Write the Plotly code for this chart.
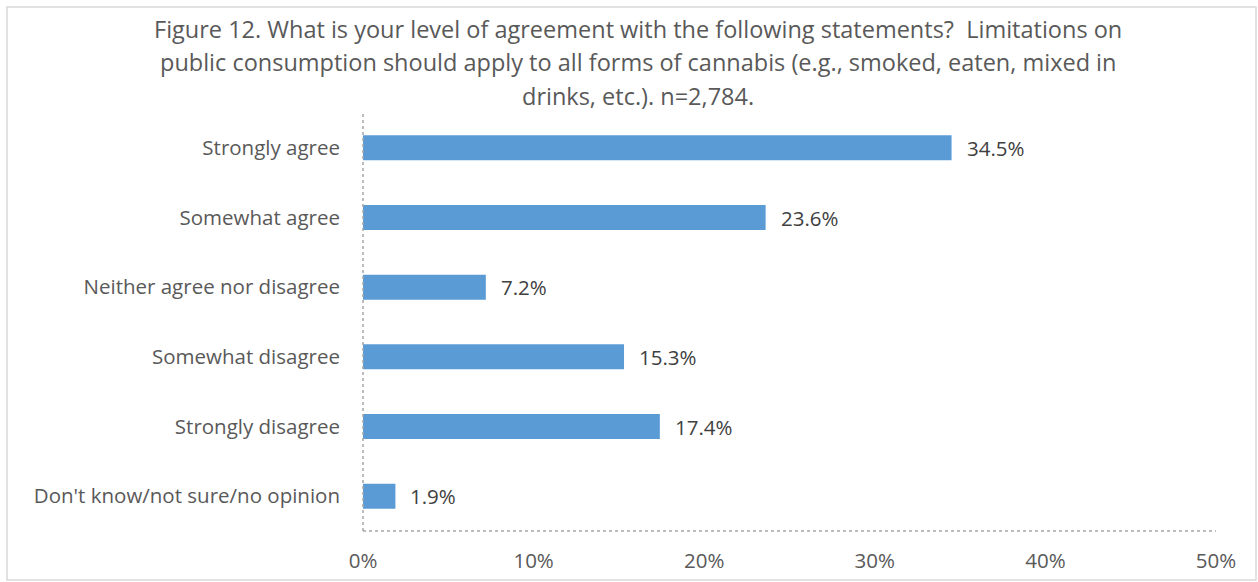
import plotly.graph_objects as go

categories = [
    "Strongly agree",
    "Somewhat agree",
    "Neither agree nor disagree",
    "Somewhat disagree",
    "Strongly disagree",
    "Don't know/not sure/no opinion",
]
values = [34.5, 23.6, 7.2, 15.3, 17.4, 1.9]
tick_vals = [0, 10, 20, 30, 40, 50]
tick_text = ["0%", "10%", "20%", "30%", "40%", "50%"]
title_lines = [
    "Figure 12. What is your level of agreement with the following statements?  Limitations on",
    "public consumption should apply to all forms of cannabis (e.g., smoked, eaten, mixed in",
    "drinks, etc.). n=2,784.",
]

W, H = 1258, 582
FONT = "Open Sans"
GRAY = "#595959"

# plot area in pixels
L, R, T, B = 363, 1216, 113, 531
PW, PH = R - L, B - T


def px_x(x):
    return (x - L) / PW


def px_y(y):
    return (B - y) / PH


fig = go.Figure()
fig.add_trace(go.Bar(
    y=categories,
    x=values,
    orientation="h",
    marker=dict(color="#5B9BD5", line=dict(width=0)),
    hoverinfo="x+y",
))

# value labels just right of each bar
for c, v in zip(categories, values):
    fig.add_annotation(
        x=v, y=c, xref="x", yref="y",
        text=f"{v:.1f}%", showarrow=False,
        xanchor="left", yanchor="middle", xshift=13,
        font=dict(family=FONT, size=20.5, color="#404040"),
    )

# three-line title
for i, line in enumerate(title_lines):
    fig.add_annotation(
        x=px_x(638), y=px_y(29 + 33.5 * i), xref="paper", yref="paper",
        text=line, showarrow=False, xanchor="center", yanchor="middle",
        font=dict(family=FONT, size=23.5, color=GRAY),
    )

# dotted axis lines
fig.add_shape(type="line", xref="paper", yref="paper", x0=0, x1=1, y0=0, y1=0,
              line=dict(color="#A6A6A6", width=1.5, dash="dot"))
fig.add_shape(type="line", xref="paper", yref="paper", x0=0, x1=0, y0=0, y1=1,
              line=dict(color="#A6A6A6", width=1.5, dash="dot"))

# outer chart border
fig.add_shape(
    type="rect", xref="paper", yref="paper",
    x0=px_x(7), x1=px_x(1256), y0=px_y(580), y1=px_y(7),
    line=dict(color="#D9D9D9", width=1.5), fillcolor="rgba(0,0,0,0)",
)

fig.update_layout(
    width=W, height=H,
    margin=dict(l=L, r=W - R, t=T, b=H - B, autoexpand=False),
    paper_bgcolor="white", plot_bgcolor="white",
    showlegend=False,
    bargap=0.64,
    font=dict(family=FONT, color=GRAY),
    xaxis=dict(
        range=[0, 50], tickvals=tick_vals, ticktext=tick_text,
        showgrid=False, zeroline=False, showline=False,
        tickfont=dict(family=FONT, size=20.5, color=GRAY),
        ticks="", ticklabelstandoff=15, automargin=False, fixedrange=True,
    ),
    yaxis=dict(
        autorange="reversed",
        showgrid=False, zeroline=False, showline=False,
        tickfont=dict(family=FONT, size=20.5, color=GRAY),
        ticks="", ticklabelstandoff=22, automargin=False, fixedrange=True,
    ),
)

fig.write_html("out.html")
